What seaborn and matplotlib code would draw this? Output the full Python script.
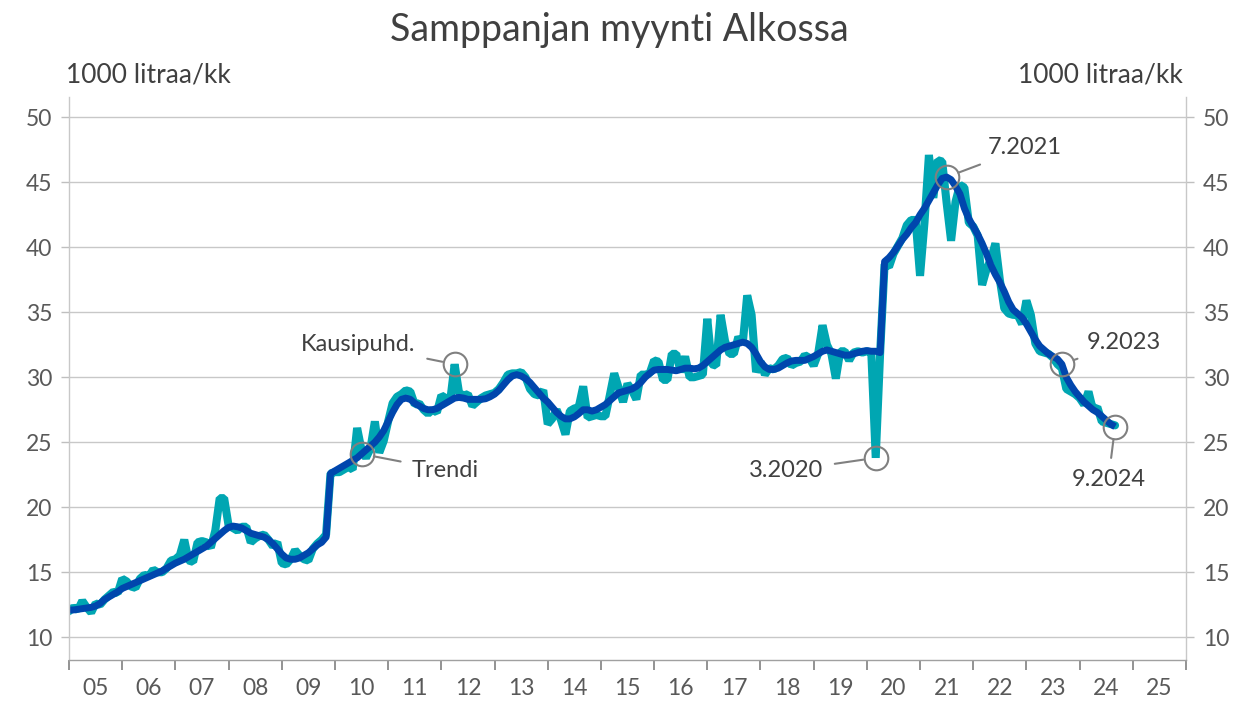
import numpy as np
import pandas as pd
import matplotlib
matplotlib.use("Agg")
import matplotlib.pyplot as plt
import seaborn as sns

# seasonally adjusted monthly sales, 1000 litres
kausi_2005 = [12.0, 12.3, 12.1, 12.8, 12.3, 11.9, 12.6, 12.5, 12.9, 13.2, 13.5, 13.4]
kausi_2006 = [14.5, 14.3, 13.9, 13.8, 14.5, 14.8, 14.7, 15.2, 15.0, 15.0, 15.3, 15.9]
kausi_2007 = [16.0, 16.3, 17.5, 15.9, 15.8, 17.3, 17.4, 17.3, 16.9, 18.2, 20.7, 20.7]
kausi_2008 = [18.6, 18.4, 18.2, 18.5, 18.5, 17.3, 17.6, 17.8, 17.9, 17.5, 17.0, 17.3]
kausi_2009 = [15.7, 15.6, 16.0, 16.7, 16.3, 16.0, 15.9, 16.8, 17.2, 17.5, 17.9, 22.6]
kausi_2010 = [22.7, 22.7, 22.9, 23.1, 22.9, 26.1, 24.4, 23.8, 24.5, 26.6, 24.2, 25.1]
kausi_2011 = [26.6, 28.0, 28.5, 28.7, 29.0, 28.9, 27.9, 28.0, 27.5, 27.2, 27.5, 27.3]
kausi_2012 = [28.6, 28.4, 28.2, 31.0, 28.8, 28.6, 28.7, 27.8, 28.1, 28.4, 28.6, 28.7]
kausi_2013 = [28.8, 29.1, 29.6, 30.2, 30.3, 30.3, 30.4, 30.0, 29.1, 28.7, 28.6, 29.0]
kausi_2014 = [26.4, 26.8, 27.5, 26.7, 25.6, 27.4, 27.6, 27.7, 29.3, 26.9, 27.0, 27.1]
kausi_2015 = [27.0, 27.0, 28.6, 30.3, 29.2, 28.1, 29.5, 29.0, 28.3, 30.2, 30.2, 30.3]
kausi_2016 = [31.3, 31.2, 29.8, 29.8, 31.8, 31.8, 30.4, 31.6, 30.0, 30.0, 30.1, 30.2]
kausi_2017 = [34.5, 31.0, 30.9, 34.8, 32.8, 31.8, 31.8, 33.1, 32.6, 36.3, 34.8, 30.4]
kausi_2018 = [31.2, 30.2, 30.7, 30.6, 30.9, 31.4, 31.5, 30.9, 31.1, 31.2, 31.7, 31.5]
kausi_2019 = [30.9, 31.8, 34.0, 32.5, 31.8, 29.9, 32.0, 32.0, 31.3, 31.9, 32.0, 31.9]
kausi_2020 = [32.0, 31.9, 23.8, 31.9, 38.7, 38.5, 39.5, 40.1, 40.7, 41.7, 42.1, 42.1]
kausi_2021 = [37.8, 41.9, 47.1, 43.8, 46.7, 46.6, 43.4, 40.5, 43.5, 44.8, 44.6, 41.9]
kausi_2022 = [41.6, 40.9, 37.1, 38.3, 39.1, 40.3, 37.5, 35.3, 34.9, 34.8, 34.8, 34.1]
kausi_2023 = [35.9, 34.8, 32.6, 32.0, 31.9, 31.8, 31.5, 31.0, 30.7, 29.1, 28.9, 28.7]
kausi_2024 = [28.4, 27.9, 28.9, 27.5, 27.7, 26.6, 26.5, 26.4, 26.3]

# trend
trendi_2005 = [12.1, 12.1, 12.15, 12.2, 12.25, 12.3, 12.4, 12.6, 12.9, 13.1, 13.3, 13.5]
trendi_2006 = [13.75, 13.9, 14.05, 14.2, 14.35, 14.5, 14.65, 14.8, 14.95, 15.1, 15.3, 15.5]
trendi_2007 = [15.7, 15.85, 16.0, 16.2, 16.4, 16.6, 16.8, 17.0, 17.3, 17.6, 17.9, 18.2]
trendi_2008 = [18.45, 18.55, 18.5, 18.4, 18.2, 18.0, 17.9, 17.8, 17.7, 17.5, 17.2, 16.8]
trendi_2009 = [16.4, 16.1, 16.0, 16.0, 16.1, 16.3, 16.5, 16.8, 17.1, 17.3, 17.7, 22.6]
trendi_2010 = [22.8, 23.0, 23.2, 23.4, 23.6, 23.8, 24.1, 24.4, 24.7, 25.0, 25.4, 25.9]
trendi_2011 = [26.6, 27.3, 27.9, 28.3, 28.4, 28.3, 28.0, 27.8, 27.6, 27.5, 27.5, 27.6]
trendi_2012 = [27.8, 28.0, 28.2, 28.4, 28.45, 28.4, 28.3, 28.3, 28.3, 28.3, 28.35, 28.5]
trendi_2013 = [28.7, 29.0, 29.4, 29.8, 30.1, 30.2, 30.1, 29.9, 29.6, 29.2, 28.8, 28.4]
trendi_2014 = [28.1, 27.7, 27.3, 27.0, 26.8, 26.8, 26.95, 27.2, 27.5, 27.5, 27.4, 27.5]
trendi_2015 = [27.7, 27.9, 28.2, 28.5, 28.8, 28.9, 29.0, 29.1, 29.3, 29.6, 30.0, 30.3]
trendi_2016 = [30.55, 30.6, 30.6, 30.6, 30.55, 30.5, 30.6, 30.7, 30.7, 30.65, 30.7, 30.9]
trendi_2017 = [31.2, 31.5, 31.8, 32.1, 32.3, 32.4, 32.5, 32.6, 32.7, 32.6, 32.3, 31.8]
trendi_2018 = [31.2, 30.8, 30.6, 30.6, 30.7, 30.9, 31.1, 31.25, 31.3, 31.3, 31.3, 31.45]
trendi_2019 = [31.6, 31.8, 32.0, 32.1, 32.0, 31.9, 31.8, 31.7, 31.7, 31.8, 31.9, 32.0]
trendi_2020 = [32.05, 32.0, 32.0, 31.9, 38.9, 39.2, 39.6, 40.1, 40.6, 41.0, 41.5, 41.9]
trendi_2021 = [42.5, 43.0, 43.6, 44.2, 44.8, 45.3, 45.4, 45.2, 44.7, 44.1, 43.0, 42.2]
trendi_2022 = [41.6, 41.0, 40.3, 39.5, 38.6, 37.9, 37.3, 36.6, 35.8, 35.2, 34.9, 34.6]
trendi_2023 = [34.1, 33.5, 32.9, 32.4, 32.1, 31.8, 31.6, 31.4, 31.0, 30.0, 29.4, 28.9]
trendi_2024 = [28.5, 28.1, 27.8, 27.5, 27.3, 27.0, 26.7, 26.4, 26.2]

kausi = sum([kausi_2005, kausi_2006, kausi_2007, kausi_2008, kausi_2009, kausi_2010,
             kausi_2011, kausi_2012, kausi_2013, kausi_2014, kausi_2015, kausi_2016,
             kausi_2017, kausi_2018, kausi_2019, kausi_2020, kausi_2021, kausi_2022,
             kausi_2023, kausi_2024], [])
trendi = sum([trendi_2005, trendi_2006, trendi_2007, trendi_2008, trendi_2009, trendi_2010,
              trendi_2011, trendi_2012, trendi_2013, trendi_2014, trendi_2015, trendi_2016,
              trendi_2017, trendi_2018, trendi_2019, trendi_2020, trendi_2021, trendi_2022,
              trendi_2023, trendi_2024], [])

# month index from 1.2005, shown as decimal year
aika = 2005 + np.arange(len(kausi)) / 12
df = pd.DataFrame({"aika": aika, "kausi": kausi, "trendi": trendi})

vuodet = list(range(2005, 2026))
vuosi_labels = [f"{v % 100:02d}" for v in vuodet]

sns.set_style("white")
plt.rcParams['font.family'] = ['Lato', 'DejaVu Sans']

tekstivari = "#404040"
harmaa = "#808080"

fig = plt.figure(figsize=(12.39, 7.04), dpi=100)
ax = fig.add_axes([69 / 1239, 44 / 704, 1117 / 1239, 563 / 704])

sns.lineplot(data=df, x="aika", y="kausi", ax=ax, color="#00A6B2", linewidth=5.8,
             solid_joinstyle="bevel")
sns.lineplot(data=df, x="aika", y="trendi", ax=ax, color="#0046AD", linewidth=5.0,
             solid_capstyle="butt")

ax.set_xlim(2005, 2026)
ax.set_ylim(8.25, 51.56)
ax.set_yticks(range(10, 55, 5))
ax.yaxis.grid(True, color="#c8c8c8", linewidth=1)
ax.set_axisbelow(True)

ax.set_xticks(range(2005, 2027))
ax.set_xticklabels([])
ax.set_xticks([v + 0.5 for v in vuodet], minor=True)
ax.set_xticklabels(vuosi_labels, minor=True)
ax.tick_params(axis="x", which="major", length=7, width=1.2, color="#808080", direction="out", bottom=True)
ax.tick_params(axis="x", which="minor", length=0, pad=13, labelsize=16.5, labelcolor="#595959")
ax.tick_params(axis="y", length=6, width=1, color="#bfbfbf", direction="out", left=True, right=True,
               labelleft=True, labelright=True, labelsize=16.5, labelcolor="#595959", pad=6)

ax.set_xlabel("")
ax.set_ylabel("")
for s in ["left", "right"]:
    ax.spines[s].set_color("#c8c8c8")
    ax.spines[s].set_linewidth(1)
ax.spines["bottom"].set_color("#a0a0a0")
ax.spines["bottom"].set_linewidth(1)
ax.spines["top"].set_visible(False)

# annotations: (month index, series, label, text position, alignment)
merkinnat = [
    (87, "kausi", "Kausipuhd.", (2011.52, 32.5), "right"),
    (66, "trendi", "Trendi", (2011.45, 22.85), "left"),
    (182, "kausi", "3.2020", (2019.18, 22.8), "right"),
    (198, "trendi", "7.2021", (2022.27, 47.65), "left"),
    (224, "trendi", "9.2023", (2024.14, 32.7), "left"),
    (236, "trendi", "9.2024", (2024.54, 22.1), "center"),
]
for i, sarja, teksti, pos, ha in merkinnat:
    x0, y0 = aika[i], df[sarja][i]
    ax.plot(x0, y0, marker="o", markersize=17, mfc="none", mec=harmaa, mew=1.5, zorder=5)
    ax.annotate(teksti, xy=(x0, y0), xytext=pos, ha=ha, va="center", fontsize=17,
                color=tekstivari,
                arrowprops=dict(arrowstyle="-", color=harmaa, lw=1.5, shrinkA=6, shrinkB=9))

fig.text(0.5, 0.957, "Samppanjan myynti Alkossa", ha="center", va="center", fontsize=27,
         color=tekstivari)
fig.text(66 / 1239, 1 - 75 / 704, "1000 litraa/kk", ha="left", va="center", fontsize=19,
         color=tekstivari)
fig.text(1183 / 1239, 1 - 75 / 704, "1000 litraa/kk", ha="right", va="center", fontsize=19,
         color=tekstivari)

plt.savefig("out.png", dpi=100)
